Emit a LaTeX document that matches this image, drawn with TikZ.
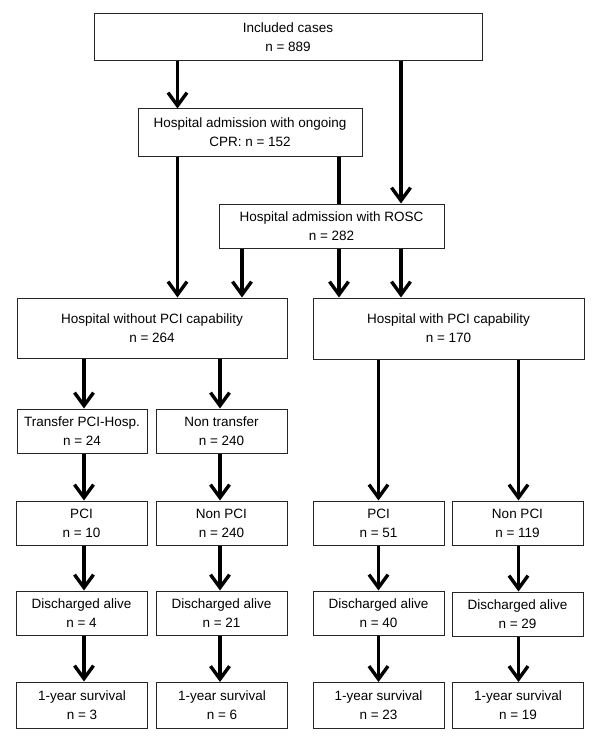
\documentclass[tikz,border=0pt]{standalone}
\usepackage{fontspec}
\setmainfont{Liberation Sans}
\usetikzlibrary{arrows.meta,backgrounds}
\begin{document}
\begin{tikzpicture}[x=1pt,y=-1pt,
  box/.style={draw=black!85,line width=1pt,fill=white,align=center,inner sep=0pt,
    font=\fontsize{13.5}{19}\selectfont},
  arr/.style={line width=3.4pt,-{Straight Barb[length=13pt,width=19pt,line width=3.4pt]}}]
\useasboundingbox (0,0) rectangle (600,741);
% column coordinates
\coordinate (c177) at (177.5,0);
\coordinate (c242) at (242,0);
\coordinate (c339) at (339,0);
\coordinate (c401) at (401,0);
\coordinate (c84) at (84,0);
\coordinate (c220) at (220,0);
\coordinate (c378) at (378.5,0);
\coordinate (c519) at (518.5,0);
% nodes
\node[box,minimum width=388,minimum height=47] (inc) at (288,37.5) {Included cases\\n = 889};
\node[box,minimum width=224,minimum height=47] (cpr) at (250,132.5) {Hospital admission with ongoing\\CPR: n = 152};
\node[box,minimum width=225,minimum height=44] (rosc) at (331.5,226) {Hospital admission with ROSC\\n = 282};
\node[box,minimum width=270,minimum height=60] (wo) at (152,328) {Hospital without PCI capability\\n = 264};
\node[box,minimum width=271,minimum height=61] (wi) at (448.5,328.5) {Hospital with PCI capability\\n = 170};
\node[box,minimum width=130,minimum height=44] (tr) at (82,431) {Transfer PCI-Hosp.\\n = 24};
\node[box,minimum width=131,minimum height=44] (nt) at (221.5,431) {Non transfer\\n = 240};
\node[box,minimum width=131,minimum height=44] (p1) at (81.5,523) {PCI\\n = 10};
\node[box,minimum width=131,minimum height=44] (np1) at (221.5,523) {Non PCI\\n = 240};
\node[box,minimum width=131,minimum height=44] (p2) at (378.5,523) {PCI\\n = 51};
\node[box,minimum width=131,minimum height=44] (np2) at (517.5,523) {Non PCI\\n = 119};
\node[box,minimum width=131,minimum height=44] (d1) at (81.5,613) {Discharged alive\\n = 4};
\node[box,minimum width=131,minimum height=44] (d2) at (221.5,613) {Discharged alive\\n = 21};
\node[box,minimum width=131,minimum height=44] (d3) at (378.5,613) {Discharged alive\\n = 40};
\node[box,minimum width=131,minimum height=44] (d4) at (517.5,614) {Discharged alive\\n = 29};
\node[box,minimum width=131,minimum height=46] (y1) at (82,705) {1-year survival\\n = 3};
\node[box,minimum width=131,minimum height=46] (y2) at (222,705.5) {1-year survival\\n = 6};
\node[box,minimum width=131,minimum height=46] (y3) at (378.5,705.5) {1-year survival\\n = 23};
\node[box,minimum width=131,minimum height=46] (y4) at (518,705.5) {1-year survival\\n = 19};
% connectors
\begin{scope}[on background layer]
\draw[arr] (cpr.south -| c339) -- (wi.north -| c339);
\end{scope}
\draw[arr] (inc.south -| c177) -- (cpr.north -| c177);
\draw[arr] (inc.south -| c401) -- (rosc.north -| c401);
\draw[arr] (cpr.south -| c177) -- (wo.north -| c177);
\draw[arr] (rosc.south -| c242) -- (wo.north -| c242);
\draw[arr] (rosc.south -| c401) -- (wi.north -| c401);
\draw[arr] (wo.south -| c84) -- (tr.north -| c84);
\draw[arr] (wo.south -| c220) -- (nt.north -| c220);
\draw[arr] (tr.south -| c84) -- (p1.north -| c84);
\draw[arr] (nt.south -| c220) -- (np1.north -| c220);
\draw[arr] (p1.south -| c84) -- (d1.north -| c84);
\draw[arr] (np1.south -| c220) -- (d2.north -| c220);
\draw[arr] (d1.south -| c84) -- (y1.north -| c84);
\draw[arr] (d2.south -| c220) -- (y2.north -| c220);
\draw[arr] (wi.south -| c378) -- (p2.north -| c378);
\draw[arr] (wi.south -| c519) -- (np2.north -| c519);
\draw[arr] (p2.south -| c378) -- (d3.north -| c378);
\draw[arr] (np2.south -| c519) -- (d4.north -| c519);
\draw[arr] (d3.south -| c378) -- (y3.north -| c378);
\draw[arr] (d4.south -| c519) -- (y4.north -| c519);
\end{tikzpicture}
\end{document}
